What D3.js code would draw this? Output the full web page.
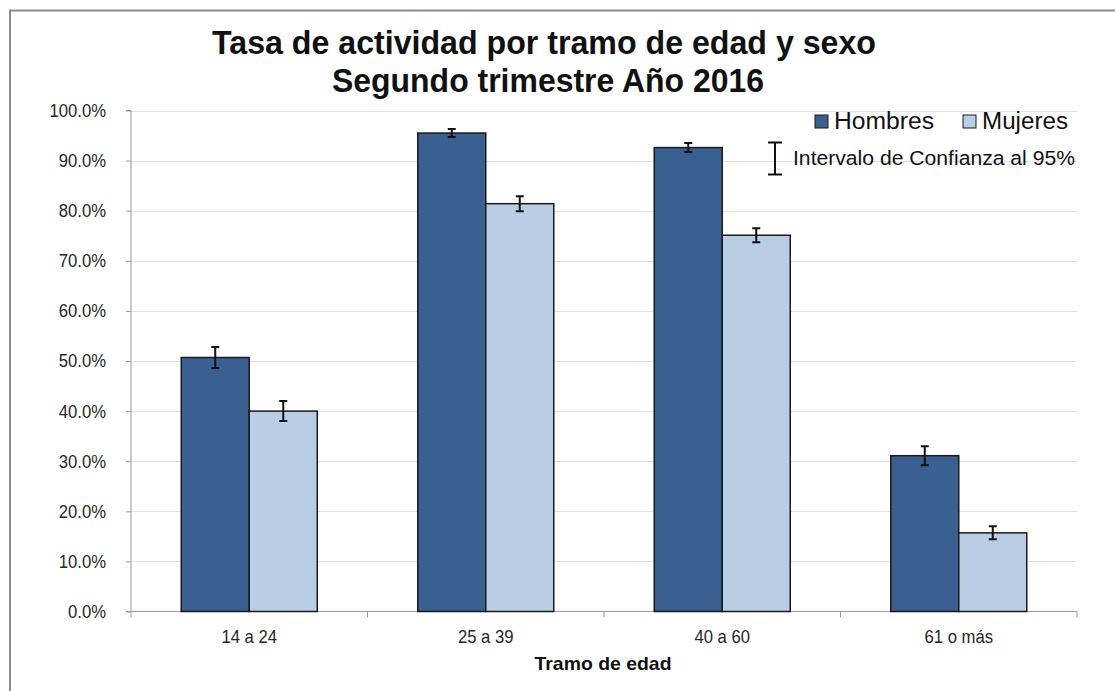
<!DOCTYPE html>
<html><head><meta charset="utf-8">
<script src="https://cdn.jsdelivr.net/npm/d3@7"></script>
<style>body{margin:0;background:#fff;} svg{display:block;}</style>
</head><body>
<svg id="c" width="1115" height="691"></svg>
<script>
const categories = ["14 a 24", "25 a 39", "40 a 60", "61 o más"];
const seriesNames = ["Hombres", "Mujeres"];
const hombres = [0.507, 0.955, 0.926, 0.311];
const mujeres = [0.400, 0.814, 0.751, 0.157];
const hombresErr = [0.021, 0.008, 0.009, 0.019];
const mujeresErr = [0.020, 0.015, 0.014, 0.013];
const yTicks = [0, 0.1, 0.2, 0.3, 0.4, 0.5, 0.6, 0.7, 0.8, 0.9, 1.0];
const colors = ["#3a5f91", "#b9cde5"];

const svg = d3.select("#c");
const plotL = 131, plotR = 1077, plotT = 110.5, plotB = 611.5;
const FONT = "Liberation Sans, Arial, sans-serif";

function condense(sel, f) {
  sel.each(function() {
    const w = this.getComputedTextLength();
    d3.select(this).attr("textLength", w * f).attr("lengthAdjust", "spacingAndGlyphs");
  });
}

svg.append("rect").attr("x", 10).attr("y", 10.5).attr("width", 1120).attr("height", 700)
  .attr("fill", "none").attr("stroke", "#8a8a8a").attr("stroke-width", 2);

const x0 = d3.scaleBand().domain(categories).range([plotL, plotR]).padding(0);
const groupW = 136;
const x1 = d3.scaleBand().domain(seriesNames).range([0, groupW]).padding(0);
const y = d3.scaleLinear().domain([0, 1]).range([plotB, plotT]);

// gridlines
svg.append("g").selectAll("line").data(yTicks.slice(1)).join("line")
  .attr("x1", plotL).attr("x2", plotR)
  .attr("y1", d => Math.round(y(d)) + 0.5).attr("y2", d => Math.round(y(d)) + 0.5)
  .attr("stroke", "#e2e2e2").attr("stroke-width", 1);

// y axis
const yAxis = d3.axisLeft(y).tickValues(yTicks).tickFormat(d3.format(".1%")).tickSize(5).tickPadding(20);
const gy = svg.append("g").attr("transform", `translate(${plotL},0)`).call(yAxis);
gy.select(".domain").attr("stroke", "#9a9a9a").attr("d", `M-5,${plotT}H0V${plotB}H-5`);
gy.selectAll(".tick line").attr("stroke", "#9a9a9a");
gy.selectAll("text").attr("font-family", FONT).attr("font-size", 18.5).attr("fill", "#262626");
condense(gy.selectAll("text"), 0.9);

// x axis
const gx = svg.append("g").attr("transform", `translate(0,${plotB})`);
gx.append("line").attr("x1", plotL).attr("x2", plotR).attr("y1", 0).attr("y2", 0).attr("stroke", "#9a9a9a");
const boundaries = categories.map(c => x0(c)).concat([plotR]);
gx.selectAll("line.tk").data(boundaries).join("line").attr("class", "tk")
  .attr("x1", d => d).attr("x2", d => d).attr("y1", 0).attr("y2", 6).attr("stroke", "#9a9a9a");
const xl = gx.selectAll("text").data(categories).join("text")
  .attr("x", d => x0(d) + x0.bandwidth() / 2).attr("y", 31)
  .attr("text-anchor", "middle").attr("font-family", FONT)
  .attr("font-size", 18.5).attr("fill", "#262626").text(d => d);
condense(xl, 0.9);

// bars
const data = categories.map((c, i) => ({c, vals: [
  {s: "Hombres", v: hombres[i], e: hombresErr[i]},
  {s: "Mujeres", v: mujeres[i], e: mujeresErr[i]}]}));
const groups = svg.append("g").selectAll("g").data(data).join("g")
  .attr("transform", d => `translate(${x0(d.c) + (x0.bandwidth() - groupW) / 2},0)`);
groups.selectAll("rect").data(d => d.vals).join("rect")
  .attr("x", d => x1(d.s)).attr("width", x1.bandwidth())
  .attr("y", d => y(d.v)).attr("height", d => y(0) - y(d.v))
  .attr("fill", (d, i) => colors[i]).attr("stroke", "#1a1a1a").attr("stroke-width", 1.5);
// error bars
const eb = groups.selectAll("g.eb").data(d => d.vals).join("g").attr("class", "eb")
  .attr("transform", d => `translate(${x1(d.s) + x1.bandwidth() / 2},0)`);
eb.append("path").attr("d", d => {
  const a = y(d.v + d.e), b = y(d.v - d.e);
  return `M-4,${a}H4M0,${a}V${b}M-4,${b}H4`;
}).attr("stroke", "#111").attr("stroke-width", 2).attr("fill", "none");

// title
const title = svg.append("g").attr("font-family", FONT)
  .attr("font-weight", "bold").attr("fill", "#111").attr("text-anchor", "middle");
title.append("text").attr("x", 544).attr("y", 54).attr("font-size", 33)
  .attr("textLength", 664).attr("lengthAdjust", "spacingAndGlyphs")
  .text("Tasa de actividad por tramo de edad y sexo");
title.append("text").attr("x", 548).attr("y", 92).attr("font-size", 33)
  .attr("textLength", 432).attr("lengthAdjust", "spacingAndGlyphs")
  .text("Segundo trimestre Año 2016");

// axis title
svg.append("text").attr("x", 603).attr("y", 670).attr("text-anchor", "middle")
  .attr("font-family", FONT).attr("font-weight", "bold")
  .attr("font-size", 19).attr("fill", "#111")
  .attr("textLength", 137).attr("lengthAdjust", "spacingAndGlyphs").text("Tramo de edad");

// legend
const lg = svg.append("g").attr("font-family", FONT).attr("fill", "#111");
const legendX = [815, 963];
const legendW = [100, 86];
seriesNames.forEach((s, i) => {
  lg.append("rect").attr("x", legendX[i]).attr("y", 115).attr("width", 13).attr("height", 13)
    .attr("fill", colors[i]).attr("stroke", "#1a1a1a").attr("stroke-width", 1);
  lg.append("text").attr("x", legendX[i] + 19).attr("y", 129).attr("font-size", 23)
    .attr("textLength", legendW[i]).attr("lengthAdjust", "spacingAndGlyphs").text(s);
});
lg.append("path").attr("d", "M768,142.5H782M775,142.5V174.5M768,174.5H782")
  .attr("stroke", "#111").attr("stroke-width", 2).attr("fill", "none");
lg.append("text").attr("x", 793).attr("y", 165).attr("font-size", 19.5)
  .attr("textLength", 282).attr("lengthAdjust", "spacingAndGlyphs").text("Intervalo de Confianza al 95%");
</script>
</body></html>
